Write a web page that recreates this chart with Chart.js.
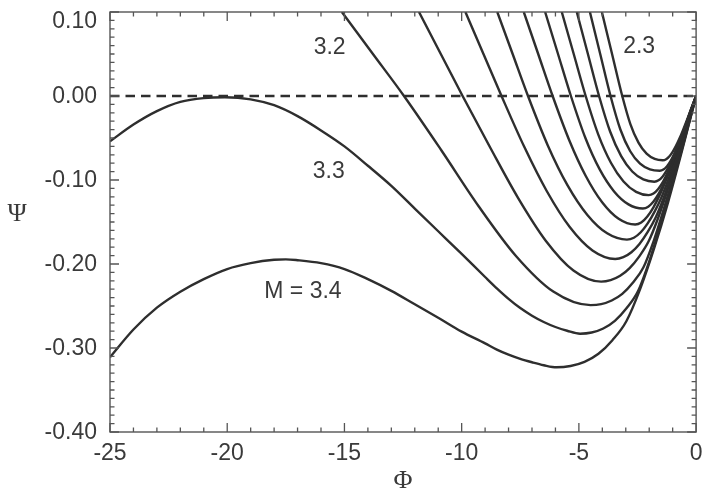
<!DOCTYPE html>
<html><head><meta charset="utf-8">
<script src="https://cdn.jsdelivr.net/npm/chart.js@4/dist/chart.umd.min.js"></script>
<style>html,body{margin:0;padding:0;background:#fff;}canvas{display:block;}</style>
</head><body>
<canvas id="c" width="710" height="495"></canvas>
<script>
// ---- data ----
const machNumbers = ['2.3','2.4','2.5','2.6','2.7','2.8','2.9','3.0','3.1','3.2','3.3','3.4'];

const phi_M23 = [-4.02,-3.585,-3.15,-2.804,-2.458,-2.112,-1.766,-1.42,-1.278,-1.136,-0.994,-0.852,-0.71,-0.568,-0.426,-0.284,-0.142,0];
const psi_M23 = [0.1,0.05,0,-0.0334,-0.0555,-0.0687,-0.0749,-0.0765,-0.0753,-0.0718,-0.0663,-0.0591,-0.0507,-0.0412,-0.0311,-0.0207,-0.0102,0];

const phi_M24 = [-4.53,-4.09,-3.65,-3.23,-2.81,-2.39,-1.97,-1.55,-1.395,-1.24,-1.085,-0.93,-0.775,-0.62,-0.465,-0.31,-0.155,0];
const psi_M24 = [0.1,0.05,0,-0.0399,-0.0658,-0.0806,-0.0874,-0.089,-0.0876,-0.0835,-0.0771,-0.0688,-0.0590,-0.0480,-0.0362,-0.0240,-0.0118,0];

const phi_M25 = [-5.09,-4.615,-4.14,-3.668,-3.196,-2.724,-2.252,-1.78,-1.602,-1.424,-1.246,-1.068,-0.89,-0.712,-0.534,-0.356,-0.178,0];
const psi_M25 = [0.1,0.05,0,-0.0423,-0.0716,-0.0899,-0.0993,-0.102,-0.1004,-0.0957,-0.0883,-0.0788,-0.0676,-0.0550,-0.0415,-0.0275,-0.0136,0];

const phi_M26 = [-5.73,-5.22,-4.71,-4.172,-3.634,-3.096,-2.558,-2.02,-1.818,-1.616,-1.414,-1.212,-1.01,-0.808,-0.606,-0.404,-0.202,0];
const psi_M26 = [0.1,0.05,0,-0.0459,-0.0794,-0.1017,-0.1141,-0.118,-0.1161,-0.1107,-0.1022,-0.0912,-0.0782,-0.0636,-0.0480,-0.0319,-0.0157,0];

const phi_M27 = [-6.44,-5.89,-5.34,-4.726,-4.112,-3.498,-2.884,-2.27,-2.043,-1.816,-1.589,-1.362,-1.135,-0.908,-0.681,-0.454,-0.227,0];
const psi_M27 = [0.1,0.05,0,-0.0497,-0.0874,-0.1136,-0.1290,-0.134,-0.1319,-0.1257,-0.1160,-0.1036,-0.0888,-0.0722,-0.0545,-0.0362,-0.0178,0];

const phi_M28 = [-7.35,-6.735,-6.12,-5.416,-4.712,-4.008,-3.304,-2.6,-2.34,-2.08,-1.82,-1.56,-1.30,-1.04,-0.78,-0.52,-0.26,0];
const psi_M28 = [0.1,0.05,0,-0.0523,-0.0949,-0.1265,-0.1462,-0.153,-0.1506,-0.1435,-0.1325,-0.1183,-0.1014,-0.0825,-0.0623,-0.0413,-0.0203,0];

const phi_M29 = [-8.48,-7.825,-7.17,-6.326,-5.482,-4.638,-3.794,-2.95,-2.655,-2.36,-2.065,-1.77,-1.475,-1.18,-0.885,-0.59,-0.295,0];
const psi_M29 = [0.1,0.05,0,-0.0588,-0.1064,-0.1416,-0.1635,-0.171,-0.1687,-0.1622,-0.1517,-0.1376,-0.1205,-0.0994,-0.0761,-0.0513,-0.0256,0];

const phi_M30 = [-9.84,-9.07,-8.30,-7.33,-6.36,-5.39,-4.42,-3.45,-3.105,-2.76,-2.415,-2.07,-1.725,-1.38,-1.035,-0.69,-0.345,0];
const psi_M30 = [0.1,0.05,0,-0.0605,-0.1137,-0.1560,-0.1839,-0.194,-0.1919,-0.1860,-0.1762,-0.1622,-0.1447,-0.1211,-0.0937,-0.0640,-0.0322,0];

const phi_M31 = [-11.82,-10.89,-9.96,-8.778,-7.596,-6.414,-5.232,-4.05,-3.645,-3.24,-2.835,-2.43,-2.025,-1.62,-1.215,-0.81,-0.405,0];
const psi_M31 = [0.1,0.05,0,-0.0616,-0.1212,-0.1722,-0.2077,-0.221,-0.2192,-0.2141,-0.2049,-0.1912,-0.1730,-0.1452,-0.1118,-0.0762,-0.0387,0];

const phi_M32 = [-15.11,-13.785,-12.46,-10.868,-9.276,-7.684,-6.092,-4.5,-4.05,-3.6,-3.15,-2.7,-2.25,-1.8,-1.35,-0.9,-0.45,0];
const psi_M32 = [0.1,0.05,0,-0.0646,-0.1312,-0.1904,-0.2328,-0.249,-0.2478,-0.2435,-0.2356,-0.2224,-0.2042,-0.1718,-0.1320,-0.0896,-0.0461,0];

const phi_M33 = [-25,-24,-23,-22,-21,-20.1,-19,-18,-17,-16,-15,-14,-13,-12,-11,-10,-9,-8.5,-8,-7.5,-7,-6.5,-6,-5.5,-4.95,-4.455,-3.96,-3.465,-2.97,-2.475,-1.98,-1.485,-0.99,-0.495,0];
const psi_M33 = [-0.054,-0.034,-0.018,-0.007,-0.0025,-0.0015,-0.004,-0.011,-0.024,-0.041,-0.060,-0.083,-0.107,-0.134,-0.161,-0.188,-0.2155,-0.229,-0.2415,-0.2525,-0.2615,-0.269,-0.275,-0.2795,-0.283,-0.2816,-0.2768,-0.2677,-0.2527,-0.2321,-0.1953,-0.1500,-0.1019,-0.0524,0];

const phi_M34 = [-25,-24,-23,-22,-21,-20,-19,-18,-17.5,-17,-16,-15,-14,-13,-12,-11,-10,-9,-8.5,-8,-7.5,-7,-6.5,-5.95,-5.355,-4.76,-4.165,-3.57,-2.975,-2.38,-1.785,-1.19,-0.595,0];
const psi_M34 = [-0.311,-0.278,-0.252,-0.233,-0.218,-0.206,-0.199,-0.195,-0.1945,-0.1955,-0.199,-0.206,-0.218,-0.232,-0.248,-0.264,-0.2805,-0.2945,-0.302,-0.308,-0.313,-0.317,-0.3205,-0.323,-0.3214,-0.3165,-0.3069,-0.2907,-0.2681,-0.2293,-0.1809,-0.1260,-0.0646,0];

const zeroPhi = [-25, 0];
const zeroPsi = [0, 0];

const yTickValues = [0.10, 0.00, -0.10, -0.20, -0.30, -0.40];
const yTickLabels = ['0.10', '0.00', '-0.10', '-0.20', '-0.30', '-0.40'];
const curveLabelTexts = ['3.2', '3.3', 'M = 3.4', '2.3'];

// ---- chart ----
const INK = '#2e2e2e';
const TXT = '#3a3a3a';
const SANS = '"Liberation Sans", Arial, Helvetica, sans-serif';
const SERIF = '"Liberation Serif", "Times New Roman", serif';

const seriesList = [
  [phi_M23, psi_M23],[phi_M24, psi_M24],[phi_M25, psi_M25],[phi_M26, psi_M26],
  [phi_M27, psi_M27],[phi_M28, psi_M28],[phi_M29, psi_M29],[phi_M30, psi_M30],
  [phi_M31, psi_M31],[phi_M32, psi_M32],[phi_M33, psi_M33],[phi_M34, psi_M34]
];

const datasets = seriesList.map(([xs, ys], k) => ({
  label: 'M = ' + machNumbers[k],
  data: xs.map((x, i) => ({x: x, y: ys[i]})),
  borderColor: INK,
  borderWidth: 2.4,
  pointRadius: 0,
  fill: false,
  cubicInterpolationMode: 'monotone'
}));
datasets.push({
  label: 'zero',
  data: zeroPhi.map((x, i) => ({x: x, y: zeroPsi[i]})),
  borderColor: INK,
  borderWidth: 2.6,
  borderDash: [9.5, 6],
  pointRadius: 0,
  fill: false,
  tension: 0
});

const framePlugin = {
  id: 'frame',
  afterDatasetsDraw(chart) {
    const {ctx, chartArea: a, scales: {x, y}} = chart;
    ctx.save();
    ctx.strokeStyle = '#555';
    ctx.lineWidth = 1.4;
    ctx.strokeRect(a.left, a.top, a.right - a.left, a.bottom - a.top);
    ctx.lineWidth = 1.3;
    ctx.beginPath();
    for (let i = 0; i <= 25; i++) {
      const px = x.getPixelForValue(-25 + i);
      const len = (i % 5 === 0) ? 9 : 4.5;
      ctx.moveTo(px, a.bottom); ctx.lineTo(px, a.bottom - len);
      ctx.moveTo(px, a.top); ctx.lineTo(px, a.top + len);
    }
    for (let i = 0; i <= 50; i++) {
      const py = y.getPixelForValue(-0.4 + i * 0.01);
      const len = (i % 10 === 0) ? 9 : 4.5;
      ctx.moveTo(a.left, py); ctx.lineTo(a.left + len, py);
      ctx.moveTo(a.right, py); ctx.lineTo(a.right - len, py);
    }
    ctx.stroke();

    ctx.fillStyle = TXT;
    ctx.font = '23px ' + SANS;
    ctx.textAlign = 'right';
    ctx.textBaseline = 'middle';
    yTickValues.forEach((v, i) => {
      const py = Math.max(y.getPixelForValue(v), a.top + 9);
      ctx.fillText(yTickLabels[i], a.left - 13, py + 1);
    });

    ctx.font = '26px ' + SERIF;
    ctx.textAlign = 'center';
    ctx.fillText('Ψ', 17, 214);

    ctx.font = '23px ' + SANS;
    ctx.textAlign = 'center';
    const anchors = [[-15.63, 0.058], [-15.67, -0.090], [-16.77, -0.2325], [-2.43, 0.059]];
    curveLabelTexts.forEach((t, i) => {
      ctx.fillText(t, x.getPixelForValue(anchors[i][0]), y.getPixelForValue(anchors[i][1]));
    });
    ctx.restore();
  }
};

new Chart(document.getElementById('c'), {
  type: 'line',
  data: {datasets: datasets},
  options: {
    responsive: false,
    animation: false,
    devicePixelRatio: 1,
    layout: {padding: {top: 12, right: 10, left: 0, bottom: 0}},
    plugins: {legend: {display: false}, tooltip: {enabled: false}},
    scales: {
      x: {
        type: 'linear', min: -25, max: 0,
        ticks: {stepSize: 5, color: TXT, font: {family: SANS, size: 23}, padding: 7.5, maxRotation: 0, autoSkip: false},
        grid: {display: false, drawTicks: false},
        border: {display: false},
        title: {display: true, text: 'Φ', color: TXT, font: {family: SERIF, size: 26, lineHeight: 1}, padding: {top: 0, bottom: 1}},
        afterFit: s => { s.height = 63; }
      },
      y: {
        type: 'linear', min: -0.4, max: 0.1,
        ticks: {display: false},
        grid: {display: false, drawTicks: false},
        border: {display: false},
        afterFit: s => { s.width = 110; }
      }
    }
  },
  plugins: [framePlugin]
});
</script>
</body></html>
